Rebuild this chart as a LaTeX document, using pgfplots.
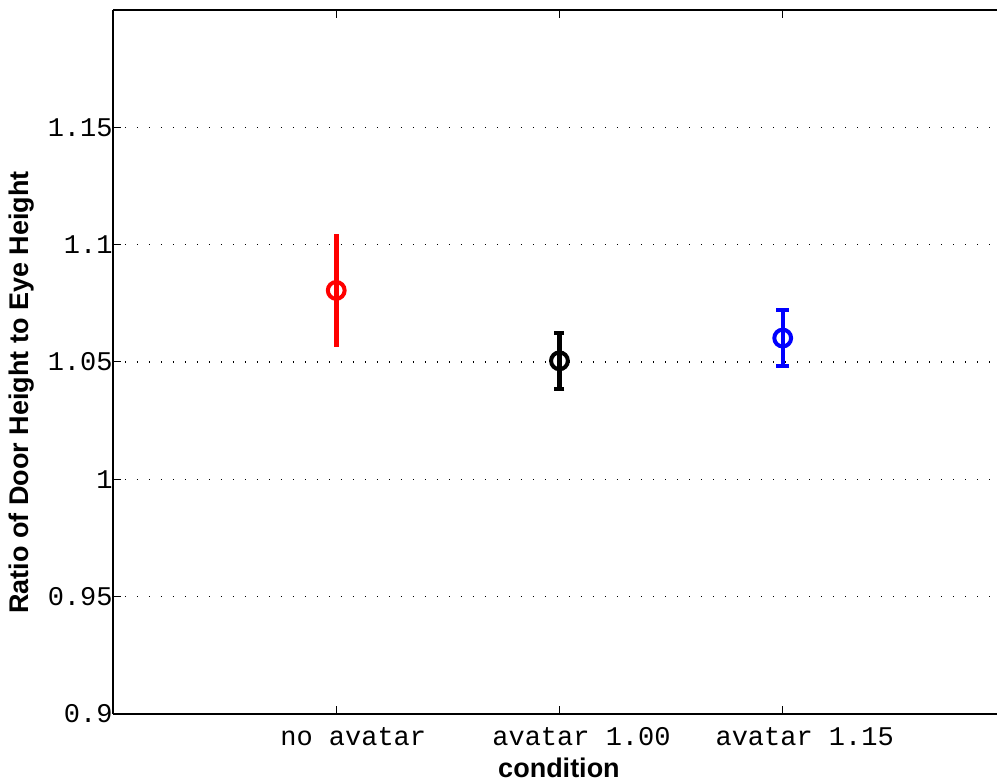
\documentclass[border=0pt]{standalone}
\usepackage{fontspec}
\setmainfont{Liberation Sans}
\setmonofont{Liberation Mono}
\usepackage{pgfplots}
\pgfplotsset{compat=1.18}

\begin{document}
\begin{tikzpicture}
\begin{axis}[
    name=ax,
    scale only axis,
    width=442pt, height=352pt,
    xmin=0, xmax=3.96,
    ymin=0.9, ymax=1.2,
    axis x line*=box,
    axis y line*=left,
    axis line style={line width=1pt},
    xtick={1,2,3},
    xticklabels={\hspace*{17pt}no avatar, \hspace*{22pt}avatar 1.00, \hspace*{22pt}avatar 1.15},
    ytick={0.9,0.95,1,1.05,1.1,1.15},
    yticklabels={0.9,0.95,1,1.05,1.1,1.15},
    tick align=inside,
    major tick length=4pt,
    tick style={line width=0.5pt, black},
    ymajorgrids,
    grid style={black, line width=0.6pt, dash pattern=on 0.6pt off 5.4pt},
    ticklabel style={font=\ttfamily\fontsize{13.5}{16}\selectfont},
    yticklabel style={anchor=east, inner sep=0pt},
    xticklabel style={yshift=-3pt},
    xlabel={condition},
    ylabel={Ratio of Door Height to Eye Height},
    every axis x label/.style={at={(rel axis cs:0.5045,0)}, anchor=center, yshift=-27pt,
        font=\bfseries\fontsize{13.5}{16}\selectfont},
    every axis y label/.style={at={(rel axis cs:0,0.457)}, anchor=center, rotate=90, yshift=45.5pt,
        font=\bfseries\fontsize{13.5}{16}\selectfont},
    clip=false,
]

% no avatar (no caps)
\addplot[red, line width=2pt, mark=o, mark size=4.2pt, only marks,
    error bars/.cd, y dir=both, y explicit,
    error bar style={line width=2.3pt, red},
    error mark=none]
    coordinates {(1,1.0805) +- (0,0.024)};

% avatar 1.00
\addplot[black, line width=2pt, mark=o, mark size=4.2pt, only marks,
    error bars/.cd, y dir=both, y explicit,
    error bar style={line width=2.2pt, black},
    error mark options={line width=2pt, mark size=2.5pt, rotate=90}]
    coordinates {(2,1.0505) +- (0,0.012)};

% avatar 1.15
\addplot[blue, line width=2pt, mark=o, mark size=4.2pt, only marks,
    error bars/.cd, y dir=both, y explicit,
    error bar style={line width=2.2pt, blue},
    error mark options={line width=2pt, mark size=3.2pt, rotate=90}]
    coordinates {(3,1.0602) +- (0,0.012)};

\end{axis}
\pgfresetboundingbox
\path ([xshift=-56.5pt, yshift=-34pt]ax.south west) rectangle ([yshift=5pt]ax.north east);
\end{tikzpicture}
\end{document}
